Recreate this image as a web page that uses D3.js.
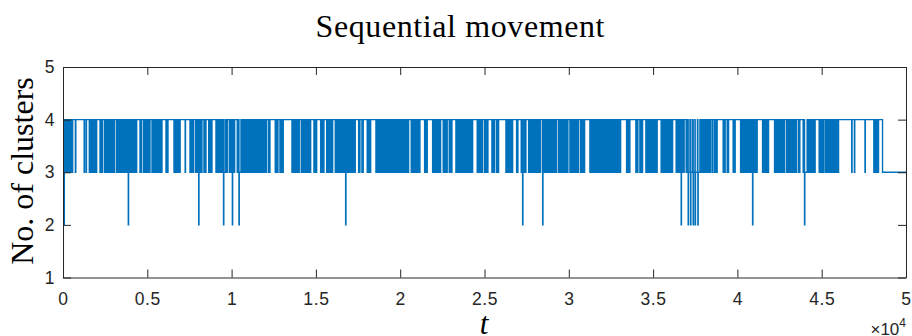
<!DOCTYPE html>
<html lang="en">
<head>
  <meta charset="UTF-8" />
  <title>Sequential movement</title>
  <script src="https://d3js.org/d3.v7.min.js"></script>
  <style>
    body { margin: 0; padding: 0; background: #fff; }
    svg { display: block; }
    .tick text { font-family: "Liberation Sans", Arial, sans-serif; font-size: 17.5px; fill: #262626; letter-spacing: 0.6px; }
    .tick line { stroke: #262626; }
    .domain { stroke: #262626; }
  </style>
</head>
<body>
<svg id="chart" width="912" height="336"></svg>

<script>
// first samples of the run (t, number of clusters)
const startSteps = [[0, 1], [20, 3], [50, 2], [80, 3], [100, 4]];

// edges of the stretches where the count drops from 4 to 3, as pairs [down, up]
const dipEdges = [
  130,200, 270,340, 410,480, 540,575,
  735,760, 1255,1275, 1372,1392,
  1560,1623, 1685,1748, 1811,1873, 1936,1998,
  2194,2247, 2301,2354,
  2473,2536, 2599,2662, 2724,2787,
  2864,2931, 2999,3066,
  3184,3263, 3343,3422,
  3499,3578, 3657,3737, 3816,3895, 3974,4053, 4133,4212, 4291,4370,
  4566,4643,
  4762,4841, 4920,4999,
  5082,5159, 5278,5355,
  5438,5489, 5541,5592,
  5675,5740, 5806,5871,
  6108,6148, 6187,6227,
  6583,6660,
  6742,6782, 6821,6861,
  6930,6950, 7245,7265,
  7531,7596, 7662,7727,
  7845,7925, 8004,8084, 8163,8243,
  8361,8401, 8440,8480,
  8640,8705, 8771,8836,
  9073,9150,
  9233,9284, 9336,9387,
  9429,9492, 9555,9617, 9680,9743,
  9862,9945,
  10022,10075, 10129,10182,
  10336,10409, 10483,10556, 10630,10703, 10776,10850, 10923,10997, 11070,11144,
  11217,11290, 11364,11437, 11511,11584, 11658,11731, 11804,11878,
  11961,12001, 12040,12080,
  12198,12275,
  12589,12643, 12696,12750,
  12868,12933, 12999,13064,
  13580,13642, 13704,13766, 13827,13889, 13951,14013,
  14131,14211, 14290,14370, 14450,14529, 14609,14689,
  14884,14937, 14991,15044,
  15282,15347, 15412,15477,
  15638,15677, 15717,15756,
  15833,15886, 15940,15993,
  16148,16220, 16293,16365, 16437,16510, 16582,16654, 16726,16799, 16871,16943,
  17019,17059, 17098,17138,
  17215,17255, 17294,17334,
  17535,17612, 17731,17808,
  18045,18112, 18180,18247,
  18561,18638, 18715,18791, 18868,18945, 19022,19099, 19175,19252, 19329,19406,
  19482,19559, 19636,19713, 19790,19866,
  19943,20026,
  20103,20143, 20182,20222,
  20298,20365, 20433,20500,
  20654,20707, 20761,20814,
  20891,20931, 20970,21010,
  21093,21170,
  21449,21500, 21552,21603,
  21923,21991, 22059,22127, 22194,22262, 22330,22398,
  22552,22631, 22710,22789,
  22908,22961, 23015,23068,
  23305,23382,
  23465,23530, 23596,23661,
  23738,23818, 23897,23977, 24057,24137, 24216,24296,
  24568,24651,
  24728,24781, 24835,24888,
  25007,25072, 25138,25203,
  25440,25493, 25547,25600,
  25718,25758, 25797,25837,
  26270,26349, 26429,26508, 26588,26667,
  26904,26982,
  27178,27234, 27290,27345, 27401,27457,
  27617,27657, 27696,27736,
  27812,27886, 27959,28033, 28107,28181, 28254,28328,
  28447,28510, 28573,28635, 28698,28761,
  28838,28905, 28973,29040,
  29117,29170, 29224,29277,
  29395,29435, 29474,29514,
  29591,29631, 29670,29710,
  29786,29840, 29893,29947,
  30065,30105, 30144,30184,
  30261,30325, 30389,30452, 30516,30580,
  30699,30778, 30857,30936,
  31251,31322, 31392,31463, 31533,31604, 31674,31745, 31815,31886,
  31963,32034, 32104,32175, 32245,32316, 32386,32457, 32527,32598,
  32675,32715, 32754,32794,
  32870,32937, 33005,33072,
  33427,33492, 33558,33623,
  33978,34018, 34057,34097,
  34215,34268, 34322,34375,
  34571,34645, 34720,34794, 34869,34943, 35018,35092, 35167,35241,
  35478,35534, 35590,35645, 35701,35757,
  35834,35898, 35962,36027, 36091,36155,
  36367,36435, 36503,36571, 36638,36706, 36774,36842,
  36961,37035, 37110,37184, 37258,37333, 37407,37481, 37555,37630, 37704,37778,
  37853,37927, 38001,38076, 38150,38224,
  38308,38348, 38387,38427,
  38527,38545,
  38646,38697, 38749,38800,
  39156,39195, 39235,39274,
  39393,39476,
  39749,39789, 39828,39868,
  40188,40261, 40334,40407, 40479,40552, 40625,40698,
  40782,40833, 40885,40936,
  41019,41070, 41122,41173,
  41492,41563, 41634,41706, 41777,41848,
  42204,42270, 42336,42402, 42468,42533, 42599,42665, 42731,42797,
  42915,42992, 43070,43153,
  43230,43286, 43342,43397, 43453,43509,
  43627,43704,
  43900,43979, 44058,44137,
  44220,44298, 44376,44455, 44533,44611,
  44850,44906, 44961,45017, 45072,45128,
  45227,45287, 45346,45406, 45465,45525,
  45561,45624, 45686,45749, 45812,45875, 45937,46000,
  46780,46800, 46940,46960, 47568,47588,
  48092,48148, 48204,48259, 48315,48371
];

// short drops down to 2 clusters, pairs [down, back]
const drops2 = [
  [3872,3890], [8047,8065], [9520,9538], [10045,10063], [10437,10455], [16764,16782],
  [27260,27278], [28450,28468], [36665,36683], [37080,37098], [37223,37241],
  [37377,37395], [37496,37514], [37656,37674], [40900,40918], [43982,44000]
];

// from here on the run stays at 3 clusters
const tailStart = 48608;
const tailValue = 3;
const tEnd = 50000;

const yTicks = [1, 2, 3, 4, 5];
const xTicks = [0, 5000, 10000, 15000, 20000, 25000, 30000, 35000, 40000, 45000, 50000];

// build the stairs series
let steps = startSteps.map(d => ({ t: d[0], v: d[1] }));
for (let i = 0; i < dipEdges.length; i += 2) {
  steps.push({ t: dipEdges[i], v: 3 });
  steps.push({ t: dipEdges[i + 1], v: 4 });
}
steps.push({ t: tailStart, v: tailValue });
steps.sort((a, b) => a.t - b.t);
drops2.forEach(([a, b]) => {
  const before = steps.filter(s => s.t <= a);
  const back = before[before.length - 1].v;
  steps.push({ t: a, v: 2 }, { t: b, v: back });
});
steps.sort((a, b) => a.t - b.t);
steps.push({ t: tEnd, v: tailValue });

const svg = d3.select("#chart");
const W = 912, H = 336;
const margin = { left: 63, right: W - 906, top: 67, bottom: H - 277.5 };

svg.append("rect").attr("width", W).attr("height", H).attr("fill", "#fff");

const x = d3.scaleLinear().domain([0, 50000]).range([margin.left, W - margin.right]);
const y = d3.scaleLinear().domain([1, 5]).range([H - margin.bottom, margin.top]);

svg.append("defs").append("clipPath").attr("id", "plotClip")
  .append("rect")
  .attr("x", margin.left).attr("y", margin.top - 1)
  .attr("width", x(50000) - x(0)).attr("height", y(1) - y(5) + 2);

const line = d3.line()
  .x(d => x(d.t))
  .y(d => y(d.v))
  .curve(d3.curveStepAfter);

svg.append("path")
  .datum(steps)
  .attr("clip-path", "url(#plotClip)")
  .attr("fill", "none")
  .attr("stroke", "#0072BD")
  .attr("stroke-width", 1.4)
  .attr("d", line);

// axes, ticks pointing inward like MATLAB
svg.append("g")
  .attr("transform", `translate(0,${y(1)})`)
  .call(d3.axisBottom(x).tickValues(xTicks).tickSize(-8).tickSizeOuter(0).tickPadding(15)
    .tickFormat(d => d / 1e4));

svg.append("g")
  .attr("transform", `translate(0,${y(5)})`)
  .call(d3.axisTop(x).tickValues(xTicks).tickSize(-8).tickSizeOuter(0).tickFormat(""));

svg.append("g")
  .attr("transform", `translate(${x(0)},0)`)
  .call(d3.axisLeft(y).tickValues(yTicks).tickSize(-8).tickSizeOuter(0).tickPadding(8)
    .tickFormat(d3.format("d")));

svg.append("g")
  .attr("transform", `translate(${x(50000)},0)`)
  .call(d3.axisRight(y).tickValues(yTicks).tickSize(-8).tickSizeOuter(0).tickFormat(""));

// exponent label
const expo = svg.append("text")
  .attr("x", 906).attr("y", 335)
  .attr("text-anchor", "end")
  .attr("font-family", "Liberation Sans, Arial, sans-serif")
  .attr("font-size", 17)
  .attr("fill", "#262626");
expo.append("tspan").text("×10");
expo.append("tspan").attr("dy", -8).attr("font-size", 12).text("4");

// title and axis labels
svg.append("text")
  .attr("x", 460).attr("y", 37)
  .attr("text-anchor", "middle")
  .attr("font-family", "Liberation Serif, Times New Roman, serif")
  .attr("font-size", 32)
  .attr("textLength", 289)
  .attr("lengthAdjust", "spacing")
  .attr("fill", "#000")
  .text("Sequential movement");

svg.append("text")
  .attr("transform", "translate(33,171) rotate(-90)")
  .attr("text-anchor", "middle")
  .attr("font-family", "Liberation Serif, Times New Roman, serif")
  .attr("font-size", 32)
  .attr("fill", "#000")
  .text("No. of clusters");

svg.append("text")
  .attr("x", 484).attr("y", 334)
  .attr("text-anchor", "middle")
  .attr("font-family", "Liberation Serif, Times New Roman, serif")
  .attr("font-style", "italic")
  .attr("font-size", 31)
  .attr("fill", "#000")
  .text("t");
</script>
</body>
</html>
